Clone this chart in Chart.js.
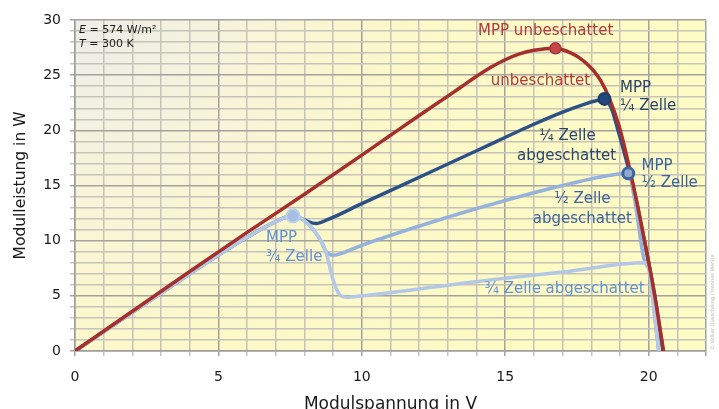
<!DOCTYPE html>
<html>
<head>
<meta charset="utf-8">
<script src="https://cdn.jsdelivr.net/npm/chart.js@4"></script>
<style>
  html, body { margin: 0; padding: 0; background: #ffffff; }
  #wrap { width: 719px; height: 409px; position: relative; }
</style>
</head>
<body>
<div id="wrap"><canvas id="c" width="719" height="409"></canvas></div>
<script>
// P-V characteristic of a PV module, unshaded and with one cell partly shaded
// Voltage in V, power in W

const unshadedV = [0, 2, 4, 6, 8, 10, 11, 12, 13, 13.5, 14, 14.5, 15, 15.5, 16, 16.4, 16.75, 17.0, 17.3, 17.6, 17.88, 18.1, 18.34, 18.63, 18.98, 19.33, 19.62, 19.9, 20.2, 20.52];
const unshadedP = [0, 3.6, 7.2, 10.75, 14.2, 17.75, 19.55, 21.35, 23.1, 24.0, 24.9, 25.72, 26.4, 26.93, 27.25, 27.4, 27.43, 27.3, 27.0, 26.55, 25.95, 25.35, 24.45, 22.9, 20.3, 16.6, 13.1, 9.4, 5.2, 0];

const quarterV = [0, 2, 4, 5, 6, 6.9, 7.6, 7.9, 8.15, 8.4, 8.8, 10, 12, 14, 16, 17, 17.8, 18.2, 18.46, 18.7, 18.9, 19.2, 19.4, 19.62, 19.9, 20.2, 20.5];
const quarterP = [0, 3.5, 7.0, 8.7, 10.3, 11.6, 12.25, 12.0, 11.7, 11.55, 11.9, 13.35, 15.75, 18.15, 20.55, 21.65, 22.4, 22.7, 22.85, 22.0, 20.3, 17.5, 15.6, 13.0, 9.4, 5.2, 0];

const halfV = [0, 2, 4, 5, 6, 6.9, 7.6, 8.05, 8.5, 8.78, 9.0, 9.4, 10, 13, 15, 17, 18.6, 19.29, 19.5, 19.85, 20.02, 20.2, 20.35];
const halfP = [0, 3.5, 7.0, 8.7, 10.3, 11.6, 12.25, 11.7, 10.3, 8.95, 8.68, 8.95, 9.58, 12.13, 13.64, 15.0, 15.9, 16.1, 13.9, 8.2, 7.3, 3.4, 0];

const threeQuarterV = [0, 2, 4, 5, 6, 6.9, 7.6, 8.05, 8.5, 8.74, 8.97, 9.2, 9.45, 10, 13, 15, 17, 19.9, 20.02, 20.2, 20.35];
const threeQuarterP = [0, 3.5, 7.0, 8.7, 10.3, 11.6, 12.25, 11.7, 10.3, 9.1, 6.7, 5.2, 4.88, 5.0, 5.96, 6.6, 7.16, 8.0, 7.3, 3.4, 0];

// maximum power points: unshaded, 1/4, 1/2, 3/4 cell shaded
const mppV = [16.75, 18.46, 19.29, 7.6];
const mppP = [27.43, 22.85, 16.1, 12.25];

const xTickLabels = [0, 5, 10, 15, 20];
const yTickLabels = [0, 5, 10, 15, 20, 25, 30];

const pts = (xs, ys) => xs.map((x, i) => ({ x: x, y: ys[i] }));

const FONT = '"DejaVu Sans", Verdana, sans-serif';
const RED = '#a52f2d';
const DARK = '#2b5186';
const MID = '#94b2dc';
const LIGHT = '#b3c7e6';

const lineDs = (label, data, color, order) => ({
  label, data, order,
  showLine: true,
  borderColor: color,
  borderWidth: 3.5,
  pointRadius: 0,
  cubicInterpolationMode: 'monotone',
  borderCapStyle: 'round',
  borderJoinStyle: 'round',
  fill: false
});

const mppData = pts(mppV, mppP);

const plotBackground = {
  id: 'plotBackground',
  beforeDraw(chart) {
    const { ctx, chartArea: a } = chart;
    ctx.save();
    const g = ctx.createRadialGradient(a.left, a.top, 0, a.left, a.top, 560);
    g.addColorStop(0, '#eeede9');
    g.addColorStop(0.3, '#f7f4da');
    g.addColorStop(0.6, '#fcf8c9');
    g.addColorStop(1, '#fffbc4');
    ctx.fillStyle = g;
    ctx.fillRect(a.left, a.top, a.right - a.left, a.bottom - a.top);
    ctx.restore();
  }
};

const curveLabels = {
  id: 'curveLabels',
  afterDatasetsDraw(chart) {
    const { ctx, scales: { x, y } } = chart;
    const put = (text, v, p, color, align) => {
      ctx.fillStyle = color;
      ctx.textAlign = align;
      ctx.fillText(text, x.getPixelForValue(v), y.getPixelForValue(p));
    };
    ctx.save();
    ctx.font = '15px ' + FONT;
    ctx.textBaseline = 'middle';
    put('MPP unbeschattet', 16.41, 28.96, '#b23a3a', 'center');
    put('unbeschattet', 16.23, 24.47, '#b23a3a', 'center');
    put('MPP', 19.0, 23.84, '#2a466e', 'left');
    put('\u00bc Zelle', 19.0, 22.2, '#2a466e', 'left');
    put('\u00bc Zelle', 17.17, 19.49, '#2a466e', 'center');
    put('abgeschattet', 17.14, 17.67, '#2a466e', 'center');
    put('MPP', 19.75, 16.77, '#3d64a0', 'left');
    put('\u00bd Zelle', 19.75, 15.23, '#3d64a0', 'left');
    put('\u00bd Zelle', 17.69, 13.78, '#3d64a0', 'center');
    put('abgeschattet', 17.69, 11.96, '#3d64a0', 'center');
    put('MPP', 6.66, 10.24, '#6391d2', 'left');
    put('\u00be Zelle', 6.66, 8.52, '#6391d2', 'left');
    put('\u00be Zelle abgeschattet', 17.07, 5.62, '#6391d2', 'center');

    // irradiance and temperature
    const a = chart.chartArea;
    ctx.fillStyle = '#1a1a1a';
    ctx.textAlign = 'left';
    const line = (sym, rest, yy) => {
      ctx.font = 'italic 11px ' + FONT;
      ctx.fillText(sym, a.left + 4, yy);
      const w = ctx.measureText(sym).width;
      ctx.font = '11px ' + FONT;
      ctx.fillText(rest, a.left + 4 + w, yy);
    };
    line('E', ' = 574 W/m\u00b2', a.top + 10);
    line('T', ' = 300 K', a.top + 24);

    // copyright
    ctx.translate(713, 350);
    ctx.rotate(-Math.PI / 2);
    ctx.font = '5px ' + FONT;
    ctx.fillStyle = '#b4b4b4';
    ctx.textAlign = 'left';
    ctx.fillText('\u00a9 Volker Quaschning / Hannes Werkle', 0, 0);
    ctx.restore();
  }
};

const MAJOR = '#a3a29c';
const MINOR = '#c6c4b8';

new Chart(document.getElementById('c'), {
  type: 'scatter',
  data: {
    datasets: [
      {
        label: 'MPP',
        data: mppData,
        order: 0,
        pointRadius: [5.5, 6, 5.5, 6.5],
        pointBorderWidth: [1.5, 2, 3, 2],
        pointBackgroundColor: ['#c5474a', '#24487a', '#8ea8cf', '#a6bee3'],
        pointBorderColor: ['#a23436', '#1e3d68', '#3d65a3', '#bcd0ee'],
        showLine: false
      },
      lineDs('unbeschattet', pts(unshadedV, unshadedP), RED, 1),
      lineDs('\u00be Zelle abgeschattet', pts(threeQuarterV, threeQuarterP), LIGHT, 2),
      lineDs('\u00bd Zelle abgeschattet', pts(halfV, halfP), MID, 3),
      lineDs('\u00bc Zelle abgeschattet', pts(quarterV, quarterP), DARK, 4)
    ]
  },
  options: {
    responsive: false,
    animation: false,
    events: [],
    layout: { padding: { top: 20, right: 11, left: 0, bottom: 0 } },
    plugins: { legend: { display: false }, tooltip: { enabled: false } },
    scales: {
      x: {
        type: 'linear',
        min: 0, max: 22,
        afterFit(s) { s.height = 58; },
        afterBuildTicks(s) { s.ticks = Array.from({ length: 23 }, (_, i) => ({ value: i })); },
        ticks: {
          autoSkip: false,
          maxRotation: 0,
          padding: 13,
          color: '#1a1a1a',
          font: { family: FONT, size: 14 },
          callback: (v) => xTickLabels.includes(v) ? String(v) : ''
        },
        grid: {
          color: (ctx) => (ctx.tick && (ctx.tick.value % 5 === 0 || ctx.tick.value === 22)) ? MAJOR : MINOR,
          lineWidth: 1.5, tickLength: 5
        },
        border: { color: '#9e9d98', width: 1.5 },
        title: {
          display: true,
          text: 'Modulspannung in V',
          color: '#1a1a1a',
          font: { family: FONT, size: 17 },
          padding: { top: 0, bottom: -6 }
        }
      },
      y: {
        type: 'linear',
        min: 0, max: 30,
        afterFit(s) { s.width = 75; },
        afterBuildTicks(s) { s.ticks = Array.from({ length: 31 }, (_, i) => ({ value: i })); },
        ticks: {
          autoSkip: false,
          padding: 9,
          color: '#1a1a1a',
          font: { family: FONT, size: 14 },
          callback: (v) => yTickLabels.includes(v) ? String(v) : ''
        },
        grid: {
          color: (ctx) => (ctx.tick && ctx.tick.value % 5 === 0) ? MAJOR : MINOR,
          lineWidth: 1.5, tickLength: 5
        },
        border: { color: '#9e9d98', width: 1.5 },
        title: {
          display: true,
          text: 'Modulleistung in W',
          color: '#1a1a1a',
          font: { family: FONT, size: 15.5 },
          padding: { top: 12, bottom: 0 }
        }
      }
    }
  },
  plugins: [plotBackground, curveLabels]
});
</script>
</body>
</html>
